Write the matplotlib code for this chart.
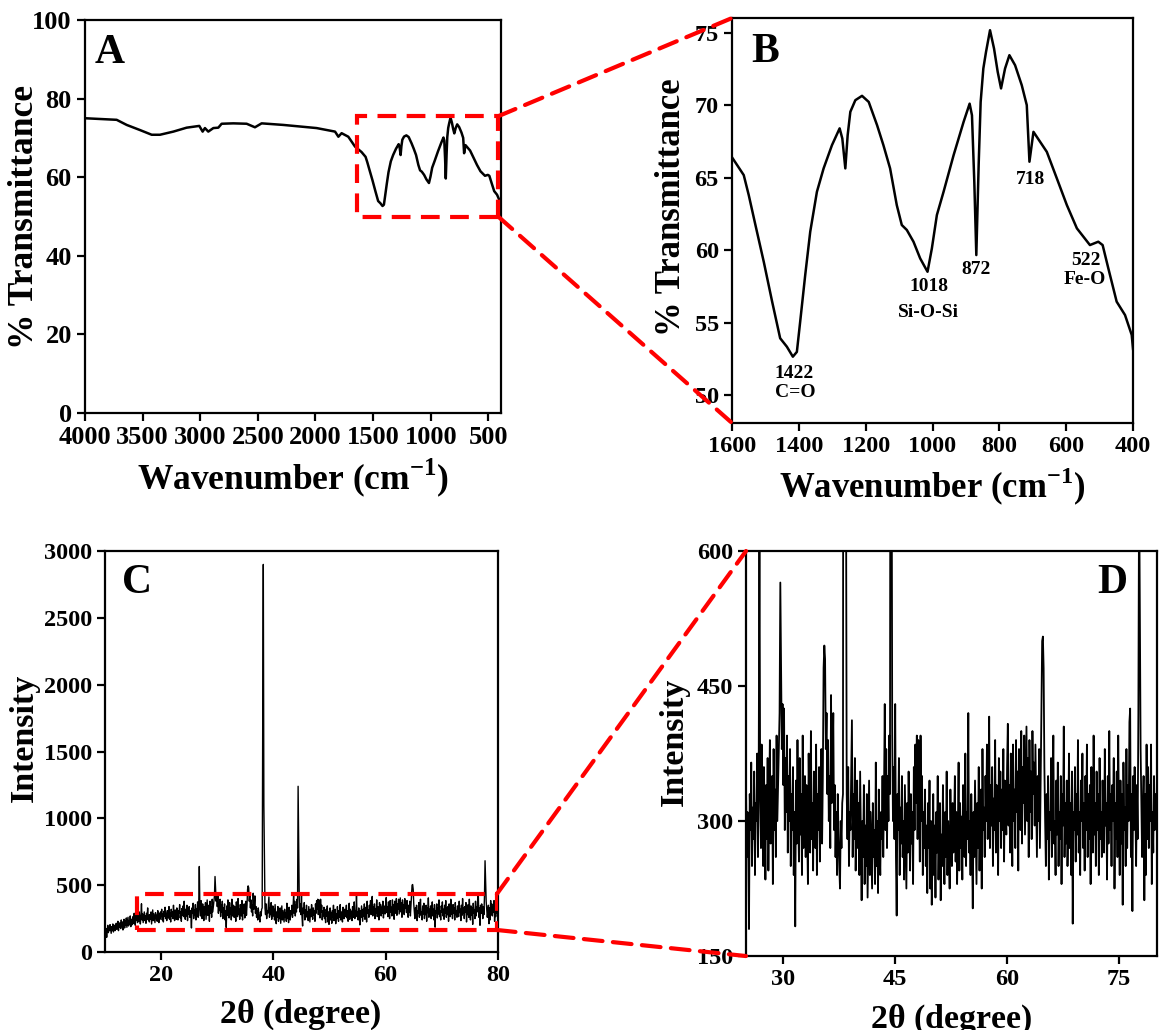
import matplotlib.pyplot as plt
import numpy as np
from matplotlib.patches import Rectangle, ConnectionPatch

# ---------------------------------------------------------------------------
# FTIR data (% transmittance vs wavenumber, cm-1)
# ---------------------------------------------------------------------------
# survey part
ftir_wn_high = [4000, 3725, 3638, 3523, 3421, 3349, 3233, 3118, 3008, 2979,
                2959, 2930, 2886, 2843, 2814, 2713, 2597, 2525, 2467, 2279,
                1990, 1830, 1801, 1773, 1715, 1657]
ftir_t_high = [75.0, 74.6, 73.3, 72.0, 70.8, 70.8, 71.6, 72.6, 73.05, 71.6,
               72.5, 71.6, 72.5, 72.6, 73.6, 73.7, 73.6, 72.7, 73.7, 73.3,
               72.5, 71.6, 70.3, 71.2, 70.3, 67.8]

# fingerprint part
ftir_wn_low = [1600, 1565, 1550, 1530, 1505, 1480, 1456, 1436, 1418, 1406,
               1396, 1381, 1366, 1346, 1326, 1301, 1278, 1270, 1261, 1254,
               1246, 1231, 1211, 1191, 1166, 1147, 1127, 1107, 1092, 1077,
               1057, 1037, 1015, 1002, 987, 967, 937, 907, 889, 882,
               875, 869, 862, 856, 848, 840, 828, 816, 805, 795,
               783, 770, 753, 733, 718, 710, 698, 678, 658, 628,
               598, 568, 529, 504, 491, 474, 449, 424, 404, 400]
ftir_t_low = [66.4, 65.18, 63.8, 61.74, 59.2, 56.46, 53.94, 53.36, 52.67, 53.0,
              55.1, 58.3, 61.28, 64.03, 65.64, 67.24, 68.4, 67.7, 65.64, 67.93,
              69.54, 70.34, 70.64, 70.22, 68.62, 67.24, 65.64, 63.11, 61.74, 61.4,
              60.59, 59.44, 58.52, 60.13, 62.43, 64.03, 66.55, 68.85, 70.1, 69.3,
              64.7, 59.67, 65.87, 70.22, 72.52, 73.66, 75.16, 73.9, 72.29, 71.15,
              72.52, 73.44, 72.75, 71.37, 70.0, 66.1, 68.16, 67.47, 66.78, 64.95,
              63.11, 61.51, 60.36, 60.59, 60.36, 58.76, 56.46, 55.54, 54.17, 53.2]

# band labels in panel B: (text, wavenumber, %T)
band_labels = [("1422", 1413, 51.5), ("C=O", 1411, 50.2),
               ("1018", 1011, 57.5), ("Si-O-Si", 1013, 55.7),
               ("872", 871, 58.7), ("718", 708, 64.9),
               ("522", 542, 59.3), ("Fe-O", 543, 58.0)]

# ---------------------------------------------------------------------------
# XRD data: one row per degree (10..80), 0.1 degree steps
# ---------------------------------------------------------------------------
xrd_first_deg = 10
xrd_step = 0.1
xrd_counts = [
    [190, 150, 175, 110, 165, 200, 145, 180, 160, 205],  # 10
    [170, 140, 190, 165, 210, 150, 185, 200, 160, 195],
    [215, 170, 195, 230, 160, 205, 185, 220, 175, 240],
    [190, 225, 165, 210, 245, 180, 230, 200, 255, 185],
    [220, 260, 195, 235, 210, 270, 190, 245, 225, 205],
    [265, 215, 290, 235, 200, 310, 240, 270, 220, 285],  # 15
    [230, 300, 250, 210, 275, 361, 240, 285, 220, 260],
    [300, 235, 270, 215, 290, 250, 330, 240, 275, 225],
    [280, 245, 300, 210, 265, 315, 235, 285, 255, 220],
    [295, 250, 275, 230, 310, 260, 220, 290, 245, 300],
    [265, 320, 240, 285, 225, 305, 270, 335, 250, 290],  # 20
    [235, 310, 275, 255, 340, 245, 295, 225, 320, 270],
    [300, 250, 350, 265, 235, 315, 285, 245, 330, 275],
    [240, 310, 290, 355, 255, 300, 230, 325, 275, 345],
    [265, 380, 290, 245, 320, 270, 350, 235, 305, 285],
    [340, 260, 310, 275, 180, 330, 290, 365, 250, 315],  # 25
    [280, 355, 240, 320, 300, 375, 260, 350, 640, 330],
    [270, 385, 295, 250, 360, 310, 235, 340, 280, 370],
    [245, 325, 390, 275, 300, 350, 230, 380, 290, 335],
    [260, 395, 300, 340, 380, 420, 565, 470, 380, 430],
    [340, 425, 290, 370, 310, 395, 265, 350, 300, 380],  # 30
    [250, 330, 290, 360, 240, 310, 183, 345, 275, 390],
    [300, 255, 370, 285, 330, 240, 395, 270, 315, 350],
    [260, 340, 290, 230, 375, 305, 265, 400, 280, 320],
    [245, 355, 300, 270, 385, 240, 330, 290, 360, 255],
    [310, 380, 275, 350, 470, 495, 480, 380, 420, 330],  # 35
    [390, 300, 350, 270, 440, 320, 360, 420, 290, 340],
    [260, 310, 240, 330, 285, 250, 225, 300, 270, 320],
    [330, 1800, 2900, 1100, 700, 330, 280, 360, 250, 310],
    [290, 350, 412, 260, 330, 280, 370, 245, 305, 345],
    [270, 320, 240, 355, 285, 212, 300, 260, 340, 230],  # 40
    [295, 250, 330, 215, 280, 345, 240, 310, 265, 225],
    [320, 260, 290, 230, 365, 250, 300, 220, 335, 275],
    [240, 310, 280, 350, 260, 330, 430, 290, 380, 270],
    [350, 300, 395, 330, 1240, 850, 400, 300, 360, 280],
    [430, 260, 195, 330, 290, 370, 240, 315, 275, 350],  # 45
    [260, 300, 235, 340, 280, 225, 320, 265, 355, 290],
    [245, 330, 275, 310, 230, 360, 290, 385, 320, 395],
    [280, 390, 330, 255, 395, 300, 350, 240, 310, 270],
    [335, 250, 295, 220, 320, 270, 345, 225, 300, 207],
    [260, 330, 240, 295, 215, 310, 265, 350, 235, 290],  # 50
    [320, 212, 285, 250, 340, 270, 230, 310, 260, 355],
    [240, 300, 275, 225, 335, 280, 250, 320, 265, 300],
    [350, 255, 310, 230, 290, 365, 245, 320, 270, 305],
    [235, 340, 285, 260, 375, 250, 310, 280, 420, 265],
    [300, 240, 330, 275, 203, 310, 260, 345, 285, 230],  # 55
    [320, 270, 360, 245, 300, 335, 225, 380, 290, 315],
    [260, 350, 300, 385, 280, 330, 416, 270, 340, 295],
    [360, 250, 325, 290, 390, 265, 340, 305, 240, 370],
    [300, 355, 270, 335, 290, 380, 255, 345, 310, 285],
    [360, 408, 295, 340, 265, 375, 320, 250, 385, 300],  # 60
    [335, 270, 390, 310, 355, 245, 380, 325, 290, 400],
    [275, 360, 320, 395, 285, 345, 405, 300, 370, 260],
    [390, 310, 355, 280, 400, 330, 365, 295, 385, 320],
    [260, 350, 300, 380, 270, 340, 420, 500, 505, 470],
    [360, 300, 250, 330, 280, 350, 235, 310, 290, 370],  # 65
    [260, 320, 395, 275, 300, 240, 345, 285, 365, 250],
    [310, 280, 350, 230, 330, 295, 405, 260, 320, 275],
    [345, 250, 300, 375, 270, 320, 240, 355, 186, 310],
    [290, 360, 255, 330, 285, 390, 265, 310, 240, 345],
    [300, 375, 270, 320, 245, 350, 290, 385, 260, 330],  # 70
    [280, 340, 230, 360, 300, 265, 395, 285, 320, 250],
    [355, 290, 330, 240, 370, 280, 310, 260, 345, 300],
    [265, 380, 295, 320, 235, 350, 275, 400, 290, 330],
    [250, 340, 300, 370, 225, 320, 280, 355, 260, 395],
    [300, 240, 345, 275, 330, 207, 365, 290, 315, 250],  # 75
    [380, 270, 340, 300, 410, 425, 260, 330, 200, 350],
    [290, 360, 310, 250, 340, 280, 420, 683, 530, 380],
    [320, 260, 300, 350, 212, 330, 240, 385, 280, 360],
    [270, 340, 300, 385, 230, 310, 265, 350, 290, 330],
    [300],  # 80
]

# ---------------------------------------------------------------------------
# styling
# ---------------------------------------------------------------------------
plt.rcParams["font.family"] = ["Liberation Serif", "DejaVu Serif"]
plt.rcParams["font.weight"] = "bold"
plt.rcParams["mathtext.fontset"] = "custom"
plt.rcParams["mathtext.rm"] = "Liberation Serif:bold"
plt.rcParams["mathtext.bf"] = "Liberation Serif:bold"
plt.rcParams["axes.linewidth"] = 1.6

RED = "#ff0000"
DASH = (0, (4.5, 2.5))


def style_axis(ax, tick_size):
    ax.tick_params(direction="out", length=5.5, width=1.6, labelsize=tick_size,
                   top=False, right=False, pad=4)
    for lab in ax.get_xticklabels() + ax.get_yticklabels():
        lab.set_fontweight("bold")


def set_labels(ax, xlabel, ylabel, xpos, ypos, size):
    ax.set_xlabel(xlabel, fontsize=size, fontweight="bold")
    ax.set_ylabel(ylabel, fontsize=size, fontweight="bold")
    ax.xaxis.set_label_coords(*xpos)
    ax.yaxis.set_label_coords(*ypos)
    ax.xaxis.label.set_va("center")
    ax.yaxis.label.set_va("center")


fig = plt.figure(figsize=(11.64, 10.30), dpi=100)
axA = fig.add_axes([0.0730, 0.5990, 0.3574, 0.3816])
axB = fig.add_axes([0.6289, 0.5893, 0.3445, 0.3932])
axC = fig.add_axes([0.0902, 0.0757, 0.3376, 0.3893])
axD = fig.add_axes([0.6409, 0.0718, 0.3531, 0.3932])

wn_label = r"Wavenumber (cm$^{\mathbf{-1}}$)"
ftir_wn = ftir_wn_high + ftir_wn_low
ftir_t = ftir_t_high + ftir_t_low

# ---- A: full FTIR spectrum
axA.plot(ftir_wn, ftir_t, "k", lw=1.8, solid_joinstyle="round")
axA.set_xlim(4000, 390)
axA.set_ylim(0, 100)
axA.set_xticks([4000, 3500, 3000, 2500, 2000, 1500, 1000, 500])
axA.set_yticks([0, 20, 40, 60, 80, 100])
style_axis(axA, 19)
set_labels(axA, wn_label, "% Transmittance", (0.50, -0.165), (-0.145, 0.50), 25.5)
axA.text(0.06, 0.915, "A", transform=axA.transAxes, fontsize=30,
         fontweight="bold", ha="center", va="center")
axA.add_patch(Rectangle((415, 50), 1640 - 415, 25.5, fill=False, ec=RED,
                        lw=3, ls=DASH, zorder=5))

# ---- B: zoom of fingerprint region
axB.plot(ftir_wn, ftir_t, "k", lw=1.8, solid_joinstyle="round")
axB.set_xlim(1600, 400)
axB.set_ylim(48.1, 76)
axB.set_xticks([1600, 1400, 1200, 1000, 800, 600, 400])
axB.set_yticks([50, 55, 60, 65, 70, 75])
style_axis(axB, 17.5)
set_labels(axB, wn_label, "% Transmittance", (0.50, -0.158), (-0.150, 0.533), 25)
axB.text(0.082, 0.916, "B", transform=axB.transAxes, fontsize=30,
         fontweight="bold", ha="center", va="center")
for txt, x, y in band_labels:
    axB.text(x, y, txt, fontsize=14, fontweight="bold", ha="center", va="center")

# ---- XRD arrays
two_theta, intensity = [], []
for k, row in enumerate(xrd_counts):
    for i, c in enumerate(row):
        two_theta.append(xrd_first_deg + k + i * xrd_step)
        intensity.append(c)

# ---- C: full XRD pattern
axC.plot(two_theta, intensity, "k", lw=1.0)
axC.set_xlim(10, 80)
axC.set_ylim(0, 3000)
axC.set_xticks([20, 40, 60, 80])
axC.set_yticks([0, 500, 1000, 1500, 2000, 2500, 3000])
style_axis(axC, 17.5)
set_labels(axC, r"2$\mathbf{\theta}$ (degree)", "Intensity",
           (0.496, -0.157), (-0.206, 0.534), 24.5)
axC.text(0.081, 0.92, "C", transform=axC.transAxes, fontsize=30,
         fontweight="bold", ha="center", va="center")
axC.add_patch(Rectangle((15.7, 165), 79.8 - 15.7, 434 - 165, fill=False,
                        ec=RED, lw=3, ls=DASH, zorder=5))

# ---- D: zoom of the baseline
axD.plot(two_theta, intensity, "k", lw=1.3)
axD.set_xlim(25, 80.1)
axD.set_ylim(150, 600)
axD.set_xticks([30, 45, 60, 75])
axD.set_yticks([150, 300, 450, 600])
style_axis(axD, 17.5)
set_labels(axD, r"2$\mathbf{\theta}$ (degree)", "Intensity",
           (0.499, -0.158), (-0.175, 0.528), 24.5)
axD.text(0.89, 0.921, "D", transform=axD.transAxes, fontsize=30,
         fontweight="bold", ha="center", va="center")

# ---- red zoom connectors
connectors = [
    (axA, (415, 75.5), axB, (0, 1)),
    (axA, (415, 50), axB, (0, 0)),
    (axC, (79.8, 434), axD, (0, 1)),
    (axC, (79.8, 165), axD, (0, 0)),
]
for src, xy_src, dst, xy_dst in connectors:
    con = ConnectionPatch(xyA=xy_src, coordsA=src.transData,
                          xyB=xy_dst, coordsB=dst.transAxes,
                          color=RED, lw=3, ls=DASH, zorder=10)
    fig.add_artist(con)

fig.savefig("out.png", dpi=100)
